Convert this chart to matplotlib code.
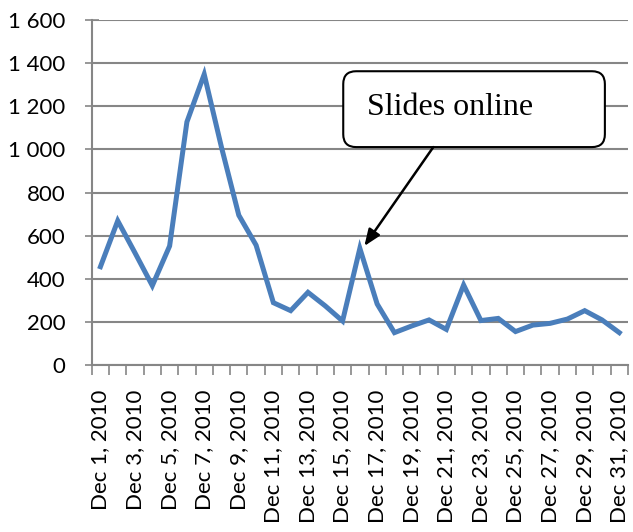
import matplotlib
matplotlib.use("Agg")
import matplotlib.pyplot as plt
import numpy as np
from matplotlib.patches import FancyBboxPatch
from matplotlib.ticker import FixedLocator, FuncFormatter

# daily downloads, December 2010
days = list(range(1, 32))
downloads = [456, 669, 520, 368, 552, 1128, 1349, 1010, 695, 556,
             289, 252, 337, 274, 204, 541, 283, 150, 181, 209,
             165, 371, 206, 216, 155, 185, 193, 213, 252, 209, 150]
day_labels = [f"Dec {d}, 2010" for d in days]
y_ticks = [0, 200, 400, 600, 800, 1000, 1200, 1400, 1600]
note_text = "Slides online"
note_day = 16

grey = "#868686"

fig = plt.figure(figsize=(6.33, 5.32), dpi=100)
ax = fig.add_axes([0.145, 0.314, 0.847, 0.648])

x = np.arange(len(days))
ax.plot(x, downloads, color="#4A7EBB", lw=3.6, solid_joinstyle="miter", zorder=3)

ax.set_xlim(-0.5, len(days) - 0.5)
ax.set_ylim(0, 1600)
ax.set_yticks(y_ticks)
ax.yaxis.set_major_formatter(FuncFormatter(lambda v, p: f"{int(v):,}".replace(",", " ")))
ax.yaxis.grid(True, color=grey, lw=1.5)
ax.set_axisbelow(True)

# labels on every other day, ticks on category boundaries
ax.xaxis.set_major_locator(FixedLocator(x[::2]))
ax.set_xticklabels(day_labels[::2], rotation=90)
ax.xaxis.set_minor_locator(FixedLocator(np.arange(-0.5, len(days), 1)))
ax.tick_params(axis="x", which="major", length=0, pad=18)
ax.tick_params(axis="x", which="minor", length=7, width=1.2, color=grey, direction="out")
ax.tick_params(axis="y", length=10, width=1.2, color=grey, direction="inout", pad=14)

for lab in ax.get_xticklabels() + ax.get_yticklabels():
    lab.set_fontfamily("Lato")
    lab.set_fontsize(16)

for s in ["top", "right"]:
    ax.spines[s].set_visible(False)
for s in ["left", "bottom"]:
    ax.spines[s].set_color(grey)
    ax.spines[s].set_linewidth(1.5)

# callout box
box = FancyBboxPatch((0.469, 0.632), 0.488, 0.22, transform=ax.transAxes,
                     boxstyle="round,pad=0,rounding_size=0.024", mutation_aspect=1.55,
                     fc="white", ec="black", lw=1.5, zorder=5, clip_on=False)
ax.add_patch(box)
ax.text(0.514, 0.725, note_text, transform=ax.transAxes, fontsize=23,
        family="Liberation Serif", ha="left", va="baseline", zorder=6)
ax.annotate("", xy=(note_day - 1 + 0.26, downloads[note_day - 1] + 11),
            xytext=(0.637, 0.632), textcoords="axes fraction",
            arrowprops=dict(arrowstyle="-|>,head_length=1.0,head_width=0.4", color="black",
                            lw=1.8, shrinkA=0, shrinkB=0),
            zorder=6)

fig.savefig("out.png", dpi=100)
